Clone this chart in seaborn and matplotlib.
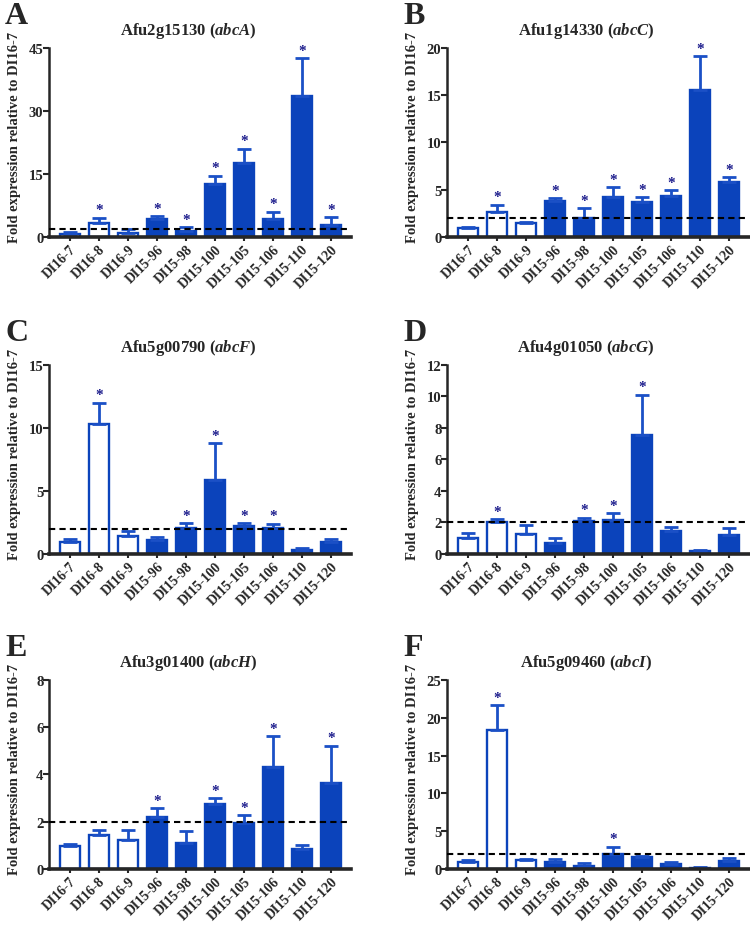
import numpy as np
import pandas as pd
import matplotlib
matplotlib.use("Agg")
import matplotlib.pyplot as plt
import seaborn as sns

# strains on the x axis
strains = ["DI16-7", "DI16-8", "DI16-9", "DI15-96", "DI15-98",
           "DI15-100", "DI15-105", "DI15-106", "DI15-110", "DI15-120"]
groups = ["DI16"] * 3 + ["DI15"] * 7

# panel titles
letters = ["A", "B", "C", "D", "E", "F"]
genes = ["Afu2g15130", "Afu1g14330", "Afu5g00790", "Afu4g01050", "Afu3g01400", "Afu5g09460"]
gene_names = ["abcA", "abcC", "abcF", "abcG", "abcH", "abcI"]
ymax = [45, 20, 15, 12, 8, 25]
ystep = [15, 5, 5, 2, 2, 5]

# mean fold expression
abcA_mean = [0.8, 3.4, 1.0, 4.4, 1.4, 12.5, 17.6, 4.4, 33.6, 2.9]
abcC_mean = [0.95, 2.65, 1.48, 3.78, 2.0, 4.2, 3.75, 4.3, 15.6, 5.87]
abcF_mean = [0.95, 10.3, 1.42, 1.13, 2.03, 5.9, 2.26, 2.03, 0.34, 0.97]
abcG_mean = [1.01, 2.05, 1.27, 0.72, 2.07, 2.13, 7.55, 1.48, 0.17, 1.18]
abcH_mean = [0.97, 1.45, 1.24, 2.2, 1.09, 2.75, 1.96, 4.33, 0.85, 3.62]
abcI_mean = [0.88, 18.4, 1.19, 0.97, 0.4, 1.98, 1.54, 0.7, 0.18, 1.01]

# upper error (SD)
abcA_err = [0.4, 1.2, 0.9, 0.6, 0.9, 2.1, 3.4, 1.6, 9.0, 1.8]
abcC_err = [0.08, 0.75, 0.12, 0.35, 1.04, 1.1, 0.45, 0.65, 3.5, 0.43]
abcF_err = [0.23, 1.7, 0.38, 0.24, 0.42, 2.9, 0.19, 0.37, 0.13, 0.23]
abcG_err = [0.34, 0.15, 0.57, 0.28, 0.23, 0.45, 2.55, 0.23, 0.08, 0.47]
abcH_err = [0.1, 0.19, 0.4, 0.37, 0.53, 0.25, 0.31, 1.28, 0.17, 1.6]
abcI_err = [0.31, 3.3, 0.18, 0.35, 0.35, 0.97, 0.22, 0.18, 0.04, 0.49]

# significance (*)
abcA_sig = [0, 1, 0, 1, 1, 1, 1, 1, 1, 1]
abcC_sig = [0, 1, 0, 1, 1, 1, 1, 1, 1, 1]
abcF_sig = [0, 1, 0, 0, 1, 1, 1, 1, 0, 0]
abcG_sig = [0, 1, 0, 0, 1, 1, 1, 0, 0, 0]
abcH_sig = [0, 0, 0, 1, 0, 1, 1, 1, 0, 1]
abcI_sig = [0, 1, 0, 0, 0, 1, 0, 0, 0, 0]

means = [abcA_mean, abcC_mean, abcF_mean, abcG_mean, abcH_mean, abcI_mean]
errs = [abcA_err, abcC_err, abcF_err, abcG_err, abcH_err, abcI_err]
sigs = [abcA_sig, abcC_sig, abcF_sig, abcG_sig, abcH_sig, abcI_sig]

BLUE = "#0b43bb"
ERR = "#1b50c6"
STAR = "#1c1c8c"

sns.set_style("ticks")
plt.rcParams["font.family"] = ["Liberation Serif", "DejaVu Serif"]
plt.rcParams["font.weight"] = "bold"
plt.rcParams["mathtext.fontset"] = "custom"
plt.rcParams["mathtext.it"] = "Liberation Serif:italic:bold"
plt.rcParams["mathtext.rm"] = "Liberation Serif:bold"

fig = plt.figure(figsize=(7.5, 9.29), dpi=100)

lefts = [0.0653, 0.596]
bottoms = [0.7438, 0.4026, 0.0635]
w, h = 0.403, 0.2035

for i in range(6):
    col, row = i % 2, i // 2
    ax = fig.add_axes([lefts[col], bottoms[row], w, h])

    df = pd.DataFrame({"strain": strains, "group": groups, "value": means[i]})
    sns.barplot(data=df, x="strain", y="value", hue="group",
                palette={"DI16": "white", "DI15": BLUE}, saturation=1,
                edgecolor=BLUE, linewidth=1.7, width=0.7,
                errorbar=None, legend=False, dodge=False, ax=ax)

    x = np.arange(len(strains))
    ax.errorbar(x, means[i], yerr=[np.zeros(len(x)), errs[i]], fmt="none",
                ecolor=ERR, elinewidth=2, capsize=5, capthick=2, zorder=1)

    for xi, m, e, s in zip(x, means[i], errs[i], sigs[i]):
        if s:
            ax.annotate("*", (xi, m + e), xytext=(0, 1), textcoords="offset points",
                        ha="center", va="bottom", fontsize=11, color=STAR,
                        fontweight="bold")

    ax.axhline(2, color="black", ls=(0, (3, 2)), lw=1.5, zorder=3)

    ax.set_xlim(-0.72, 9.7)
    ax.set_ylim(0, ymax[i])
    ax.set_yticks(np.arange(0, ymax[i] + 0.01, ystep[i]))
    sns.despine(ax=ax)
    ax.spines["left"].set_linewidth(1.8)
    ax.spines["bottom"].set_linewidth(2.6)
    ax.tick_params(axis="y", labelsize=10.5, width=1.5, length=4, pad=0)
    ax.tick_params(axis="x", labelsize=10, width=1.5, length=3, pad=1)
    for lab in ax.get_yticklabels():
        lab.set_fontweight("bold")
    ax.set_xticks(x)
    ax.set_xticklabels(strains, rotation=45, ha="right", rotation_mode="anchor",
                       fontweight="bold")
    ax.set_xlabel("")
    ax.set_ylabel("Fold expression relative to DI16-7", fontsize=10.5,
                  fontweight="bold")
    ax.yaxis.set_label_coords(-0.092, 0.53)

    ax.set_title(f"{genes[i]} (${gene_names[i]}$)", fontsize=12,
                 fontweight="bold", x=0.46, pad=10)
    ax.text(-0.145, 1.25, letters[i], transform=ax.transAxes, fontsize=23,
            fontweight="bold", va="top", ha="left")

fig.savefig("out.png", dpi=100)
